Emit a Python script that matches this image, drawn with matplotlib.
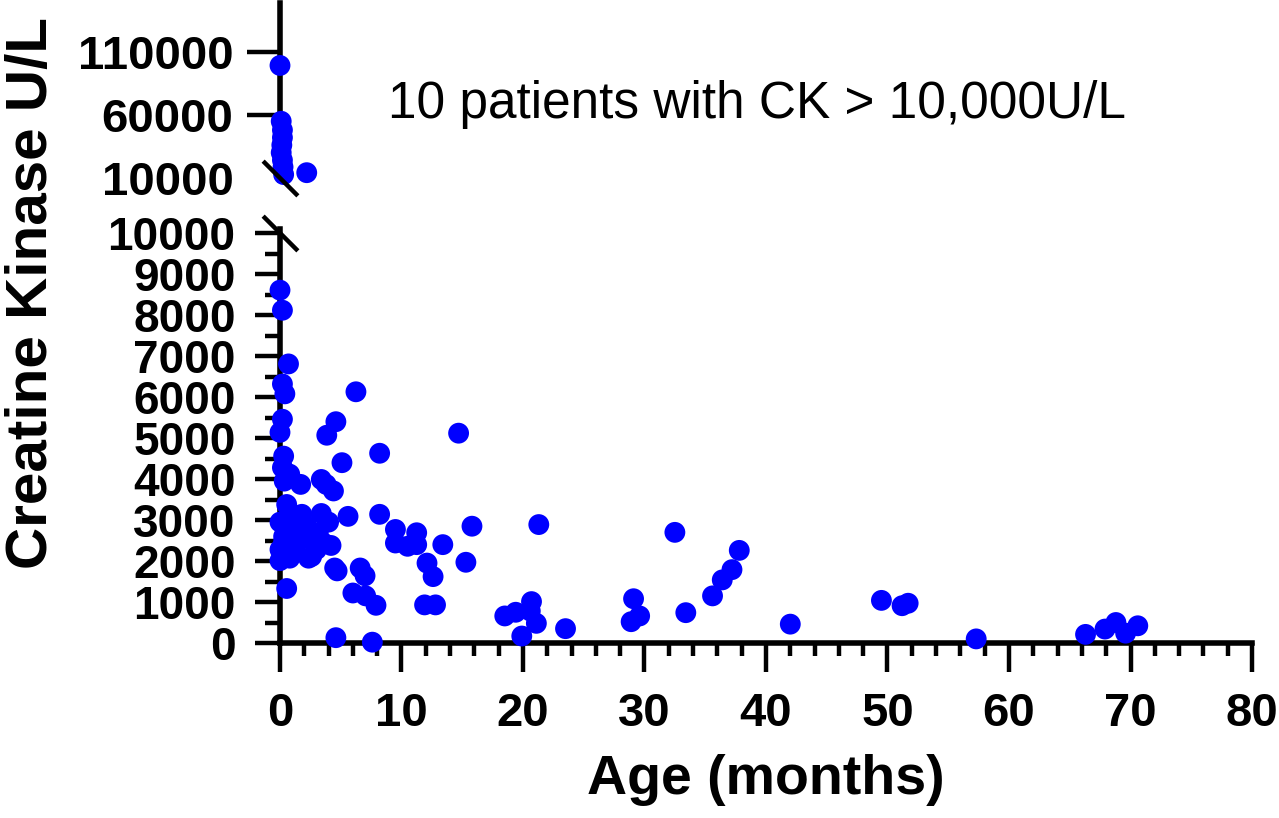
import matplotlib
matplotlib.use("Agg")
import matplotlib.pyplot as plt
from matplotlib.ticker import MultipleLocator

plt.rcParams['font.family'] = ['Liberation Sans', 'DejaVu Sans']

# patients with CK above 10,000 U/L (upper panel)
high_age = [0.0, 0.1, 0.2, 0.2, 0.15, 0.1, 0.2, 0.25, 0.3, 2.2]
high_ck = [99500, 55000, 48000, 42000, 36000, 30000, 24000, 18500, 12500, 14000]

# everyone else (lower panel)
age = [0.0, 0.2, 0.7, 0.2, 0.4, 0.2, 0.0, 0.3, 0.2, 0.8, 0.35, 0.55, 0.0, 0.3, 0.3,
       0.0, 0.0, 0.55,
       0.8, 0.7, 1.8, 1.5, 2.2, 2.05, 1.1, 1.25, 0.8, 2.6, 2.35, 3.4, 3.15, 4.0,
       3.6, 4.2, 3.0, 1.7, 3.4, 3.8, 4.4,
       6.25, 4.6, 3.85, 14.7, 8.2, 5.1, 5.6, 8.2, 15.8, 9.5, 11.25, 9.5, 10.5,
       11.25, 13.4, 12.1, 12.6, 15.3, 11.9, 12.8, 4.5, 4.7, 6.6, 7.0, 6.0, 7.05,
       7.9, 4.6, 7.6,
       18.5, 19.4, 20.7, 20.6, 21.1, 19.9, 23.5, 21.3, 29.1, 28.9, 29.6, 32.5,
       33.4, 35.6, 36.4, 37.2, 37.8, 42.0, 49.5, 51.2, 51.7, 57.3, 66.3, 67.9,
       68.8, 69.6, 70.6]
ck = [8610, 8120, 6810, 6320, 6080, 5460, 5140, 4560, 4280, 4120, 3950, 3380, 2950,
      2600, 2480, 2280, 2010, 1330,
      3010, 2770, 3140, 2700, 2850, 2560, 2300, 2360, 2070, 2110, 2070, 3160,
      2690, 2950, 2440, 2380, 2280, 3870, 3990, 3870, 3710,
      6130, 5400, 5070, 5120, 4630, 4400, 3090, 3140, 2850, 2770, 2690, 2440,
      2360, 2400, 2400, 1950, 1620, 1970, 930, 930, 1830, 1760, 1830, 1640,
      1220, 1150, 920, 130, 20,
      660, 750, 1010, 780, 480, 170, 350, 2890, 1080, 520, 660, 2700, 740, 1150,
      1540, 1790, 2260, 460, 1040, 910, 970, 100, 210, 340, 500, 240, 420]

fig = plt.figure(figsize=(12.79, 8.18), dpi=100)
ax = fig.add_axes([0.21892, 0.21394, 0.75997, 0.50599])
ax_top = fig.add_axes([0.21892, 0.77995, 0.75997, 0.21602])

dot = dict(s=225, color='#0000ff', edgecolors='none', zorder=3, clip_on=False)
ax.scatter(age, ck, **dot)
ax_top.scatter(high_age, high_ck, **dot)

# lower panel
ax.set_xlim(0, 80)
ax.set_ylim(0, 10100)
ax.xaxis.set_major_locator(MultipleLocator(10))
ax.xaxis.set_minor_locator(MultipleLocator(2))
ax.yaxis.set_major_locator(MultipleLocator(1000))
ax.yaxis.set_minor_locator(MultipleLocator(500))
for side in ['top', 'right']:
    ax.spines[side].set_visible(False)
for side in ['left', 'bottom']:
    ax.spines[side].set_linewidth(4)
ax.tick_params(axis='x', which='major', length=21, width=3.2, pad=14, labelsize=34)
ax.tick_params(axis='x', which='minor', length=9, width=3.2)
ax.tick_params(axis='y', which='major', length=18, width=3.2, pad=14, labelsize=33)
ax.tick_params(axis='y', which='minor', length=10.5, width=3.2)
for lab in ax.get_xticklabels() + ax.get_yticklabels():
    lab.set_fontweight('bold')
fig.canvas.draw()
ax.yaxis.get_major_ticks()[-1].tick1line.set_visible(False)

# upper panel
ax_top.set_xlim(0, 80)
ax_top.set_ylim(8166, 149075)
ax_top.set_yticks([10000, 60000, 110000])
ax_top.set_xticks([])
for side in ['top', 'right', 'bottom']:
    ax_top.spines[side].set_visible(False)
ax_top.spines['left'].set_linewidth(4)
ax_top.tick_params(axis='y', length=24, width=3.2, pad=9.5, labelsize=34)
for lab in ax_top.get_yticklabels():
    lab.set_fontweight('bold')
ax_top.yaxis.get_major_ticks()[0].tick1line.set_visible(False)

# axis break marks
brk = dict(marker=[(-1, 1), (1, -1)], markersize=25, linestyle='none',
           color='k', mec='k', mew=3.2, clip_on=False, zorder=4)
ax.plot([0], [10000], **brk)
ax_top.plot([0], [10000], **brk)

fig.text(0.3034, 0.8557, '10 patients with CK > 10,000U/L', fontsize=37,
         ha='left', va='baseline')
fig.text(0.025, 0.6418, 'Creatine Kinase U/L', fontsize=42, fontweight='bold',
         rotation=90, ha='center', va='center')
fig.text(0.599, 0.047, 'Age (months)', fontsize=40, fontweight='bold',
         ha='center', va='center')

fig.savefig('out.png', dpi=100)
